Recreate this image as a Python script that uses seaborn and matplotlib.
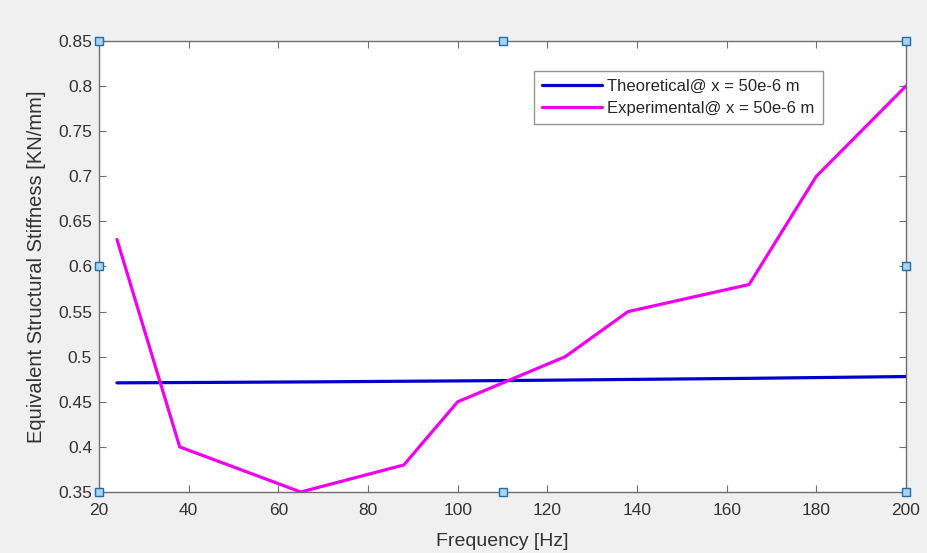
import matplotlib
matplotlib.use("Agg")
import matplotlib.pyplot as plt
import seaborn as sns
import pandas as pd

# ---- data ----
theo_freq = [24, 65, 110, 165, 200]
theo_stiff = [0.471, 0.472, 0.4735, 0.4760, 0.478]

exp_freq = [24, 38, 65, 88, 100, 124, 138, 165, 180, 200]
exp_stiff = [0.63, 0.40, 0.35, 0.38, 0.45, 0.50, 0.55, 0.58, 0.70, 0.80]

theo_label = "Theoretical@ x = 50e-6 m"
exp_label = "Experimental@ x = 50e-6 m"

x_ticks = [20, 40, 60, 80, 100, 120, 140, 160, 180, 200]
y_ticks = [0.35, 0.40, 0.45, 0.50, 0.55, 0.60, 0.65, 0.70, 0.75, 0.80, 0.85]
y_tick_labels = ["0.35", "0.4", "0.45", "0.5", "0.55", "0.6", "0.65", "0.7", "0.75", "0.8", "0.85"]

# selection handles drawn around the axes box
handle_x = [20, 110, 200, 20, 200, 20, 110, 200]
handle_y = [0.85, 0.85, 0.85, 0.60, 0.60, 0.35, 0.35, 0.35]

df = pd.concat([
    pd.DataFrame({"Frequency": theo_freq, "Stiffness": theo_stiff, "Series": theo_label}),
    pd.DataFrame({"Frequency": exp_freq, "Stiffness": exp_stiff, "Series": exp_label}),
], ignore_index=True)

sns.set_style("ticks")
plt.rcParams["font.family"] = ["Liberation Sans", "DejaVu Sans"]

fig = plt.figure(figsize=(9.28, 5.53), dpi=100, facecolor="#f0f0f0")
ax = fig.add_axes([0.1067, 0.1103, 0.8696, 0.8156])
ax.set_facecolor("white")

sns.lineplot(data=df, x="Frequency", y="Stiffness", hue="Series",
             palette={theo_label: "#0000cc", exp_label: "#ee00ee"},
             linewidth=2.3, ax=ax, sort=False, estimator=None)

ax.set_xlim(20, 200)
ax.set_ylim(0.35, 0.85)
ax.set_xticks(x_ticks)
ax.set_xticklabels([str(v) for v in x_ticks])
ax.set_yticks(y_ticks)
ax.set_yticklabels(y_tick_labels)

spine_col = "#6e6e6e"
for s in ax.spines.values():
    s.set_visible(True)
    s.set_color(spine_col)
    s.set_linewidth(1.0)

ax.tick_params(axis="both", which="both", direction="in", length=5, width=0.8,
               color=spine_col, labelcolor="#333333", labelsize=12.5,
               top=True, right=True)
ax.tick_params(axis="x", pad=8)
ax.tick_params(axis="y", pad=5)

ax.set_xlabel("Frequency [Hz]", fontsize=14, color="#333333", labelpad=11)
ax.set_ylabel("Equivalent Structural Stiffness [KN/mm]", fontsize=14.5, color="#333333", labelpad=9)

ax.plot(handle_x, handle_y, linestyle="none", marker="s", markersize=6,
        markerfacecolor="#a9d3f0", markeredgecolor="#1f6fa8", markeredgewidth=1.0,
        clip_on=False, zorder=10)

leg = ax.legend(loc="upper right", bbox_to_anchor=(0.897, 0.9335), frameon=True,
                fancybox=False, edgecolor="#7a7a7a", fontsize=12,
                handlelength=3.6, handletextpad=0.3, borderpad=0.5, labelspacing=0.4,
                borderaxespad=0)
leg.get_frame().set_linewidth(1.0)
leg.set_title(None)

fig.savefig("out.png", dpi=100, facecolor=fig.get_facecolor())
